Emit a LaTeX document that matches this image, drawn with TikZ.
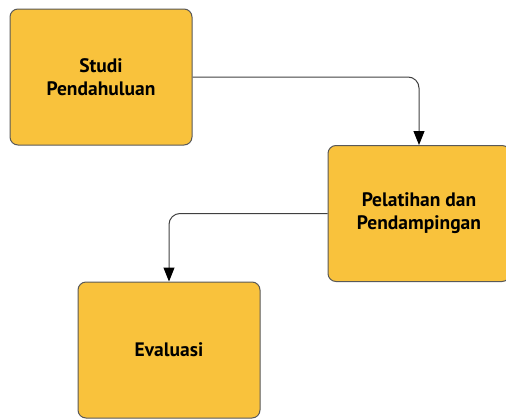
\documentclass[tikz,border=0pt]{standalone}
\usepackage{fontspec}
\setmainfont{PT Sans}
\usetikzlibrary{arrows.meta}

\begin{document}
\begin{tikzpicture}[x=1pt,y=-1pt,
  stepbox/.style={draw=black!65,line width=1pt,fill=boxyellow,rounded corners=8pt,
    minimum width=182pt,minimum height=136pt,align=center,
    font=\fontsize{19.5}{23}\selectfont\bfseries},
  link/.style={draw=black!75,line width=1pt,rounded corners=11pt,
    -{Triangle[length=14pt,width=11pt,black]}}]
\definecolor{boxyellow}{HTML}{F9C23C}
\useasboundingbox (0,0) rectangle (506,418);
\node[stepbox] (studi) at (101,77) {Studi\\Pendahuluan};
\node[stepbox] (latih) at (419,213.5) {Pelatihan dan\\Pendampingan};
\node[stepbox] (eval) at (169,350) {Evaluasi};

\draw[link] (studi.east) -| (latih.north);
\draw[link] (latih.west) -| (eval.north);
\end{tikzpicture}
\end{document}
